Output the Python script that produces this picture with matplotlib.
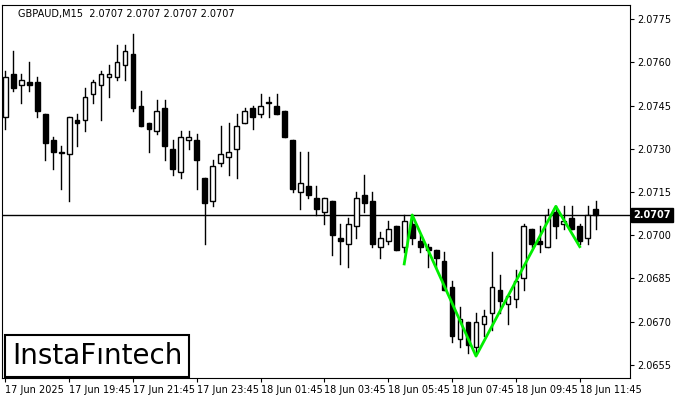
import matplotlib
matplotlib.use("Agg")
import matplotlib.pyplot as plt
from matplotlib.patches import Rectangle
import numpy as np

opens = [2.0741,2.0756,2.0752,2.0753,2.0753,2.0742,2.0733,2.0729,2.0728,2.0740,
         2.0740,2.0749,2.0752,2.0755,2.0755,2.0759,2.0763,2.0745,2.0739,2.0736,
         2.0744,2.0730,2.0722,2.0733,2.0733,2.0720,2.0712,2.0725,2.0727,2.0730,
         2.0739,2.0744,2.0742,2.0746,2.0745,2.0743,2.0733,2.0715,2.0717,2.0713,
         2.0708,2.0712,2.0699,2.0697,2.0703,2.0714,2.0712,2.0696,2.0698,2.0703,
         2.0696,2.0704,2.0698,2.0696,2.0695,2.0691,2.0682,2.0664,2.0670,2.0661,
         2.0669,2.0673,2.0681,2.0676,2.0678,2.0685,2.0702,2.0698,2.0696,2.0708,
         2.0704,2.0706,2.0703,2.0699,2.0709]
highs = [2.0757,2.0764,2.0756,2.0760,2.0755,2.0742,2.0734,2.0731,2.0741,2.0742,
         2.0751,2.0754,2.0757,2.0759,2.0766,2.0766,2.0770,2.0750,2.0739,2.0747,
         2.0747,2.0733,2.0736,2.0736,2.0735,2.0720,2.0726,2.0738,2.0739,2.0742,
         2.0744,2.0745,2.0749,2.0748,2.0749,2.0743,2.0733,2.0729,2.0729,2.0717,
         2.0713,2.0712,2.0704,2.0706,2.0715,2.0721,2.0715,2.0701,2.0705,2.0703,
         2.0707,2.0707,2.0700,2.0697,2.0695,2.0694,2.0684,2.0675,2.0670,2.0673,
         2.0674,2.0694,2.0686,2.0679,2.0688,2.0704,2.0702,2.0703,2.0709,2.0710,
         2.0710,2.0710,2.0704,2.0710,2.0712]
lows = [2.0737,2.0750,2.0746,2.0750,2.0741,2.0726,2.0723,2.0716,2.0712,2.0731,
        2.0736,2.0746,2.0740,2.0748,2.0754,2.0754,2.0743,2.0738,2.0729,2.0735,
        2.0726,2.0721,2.0720,2.0730,2.0716,2.0697,2.0710,2.0724,2.0721,2.0720,
        2.0739,2.0737,2.0741,2.0741,2.0742,2.0734,2.0715,2.0709,2.0713,2.0707,
        2.0704,2.0693,2.0690,2.0689,2.0699,2.0708,2.0696,2.0692,2.0697,2.0695,
        2.0694,2.0697,2.0694,2.0689,2.0689,2.0681,2.0663,2.0661,2.0659,2.0659,
        2.0665,2.0667,2.0673,2.0669,2.0675,2.0681,2.0696,2.0694,2.0696,2.0699,
        2.0702,2.0702,2.0697,2.0697,2.0702]
closes = [2.0755,2.0751,2.0754,2.0752,2.0743,2.0732,2.0729,2.07285,2.0741,2.0739,
          2.0748,2.0753,2.0756,2.0756,2.0760,2.0764,2.0744,2.0738,2.0737,2.0743,
          2.0731,2.0723,2.0734,2.0734,2.0726,2.0711,2.0724,2.0728,2.0729,2.0738,
          2.0743,2.0741,2.0745,2.0746,2.0742,2.0734,2.0716,2.0718,2.0714,2.0709,
          2.0713,2.0700,2.0698,2.0704,2.0713,2.0711,2.0697,2.0699,2.0702,2.0695,
          2.0705,2.0699,2.0696,2.0695,2.0692,2.0681,2.0665,2.0671,2.0662,2.0670,
          2.0672,2.0682,2.0677,2.0679,2.0684,2.0703,2.0697,2.0697,2.0707,2.0703,
          2.0705,2.0702,2.0698,2.0707,2.0707]

pattern_idx = [50, 51, 59, 69, 72]
pattern_val = [2.0690, 2.0707, 2.0658, 2.0710, 2.0696]

xtick_idx = [0, 8, 16, 24, 32, 40, 48, 56, 64, 72]
xtick_labels = ["17 Jun 2025", "17 Jun 19:45", "17 Jun 21:45", "17 Jun 23:45",
                "18 Jun 01:45", "18 Jun 03:45", "18 Jun 05:45", "18 Jun 07:45",
                "18 Jun 09:45", "18 Jun 11:45"]
yticks = [2.0655, 2.0670, 2.0685, 2.0700, 2.0715, 2.0730, 2.0745, 2.0760, 2.0775]
last_price = 2.0707
title = "GBPAUD,M15  2.0707 2.0707 2.0707 2.0707"

fig = plt.figure(figsize=(7, 4), dpi=100)
ax = fig.add_axes([0.003, 0.055, 0.897, 0.9325])
w = 0.6
for i, (o, h, l, c) in enumerate(zip(opens, highs, lows, closes)):
    ax.plot([i, i], [l, h], color="black", lw=1, zorder=2)
    b = min(o, c); hgt = max(abs(c - o), 0.00003)
    ax.add_patch(Rectangle((i - w/2, b), w, hgt, facecolor="white" if c >= o else "black",
                           edgecolor="black", lw=1, zorder=3))
ax.axhline(last_price, color="black", lw=1, zorder=1)
ax.plot(pattern_idx, pattern_val, color="#00ee00", lw=2, zorder=4)
ax.set_xlim(-0.4, 78.3)
ax.set_ylim(2.06504, 2.07799)
ax.yaxis.tick_right()
ax.set_yticks(yticks)
ax.set_yticklabels([f"{v:.4f}" for v in yticks], fontsize=7)
ax.set_xticks(xtick_idx)
ax.set_xticklabels(xtick_labels, fontsize=7, ha="left")
ax.tick_params(length=3, pad=2)
ax.text(0.025, 0.99, title, transform=ax.transAxes, fontsize=7, va="top", ha="left")
ax.text(1.005, last_price, f"{last_price:.4f}", transform=ax.get_yaxis_transform(),
        fontsize=7, color="white", va="center", ha="left", fontweight="bold",
        bbox=dict(boxstyle="square,pad=0.2", fc="black", ec="black"))
fig.text(0.017, 0.075, "InstaFıntech", fontsize=20, va="bottom", ha="left",
         bbox=dict(boxstyle="square,pad=0.25", fc="white", ec="black", lw=1.5), zorder=10)
fig.savefig("out.png", dpi=100)
